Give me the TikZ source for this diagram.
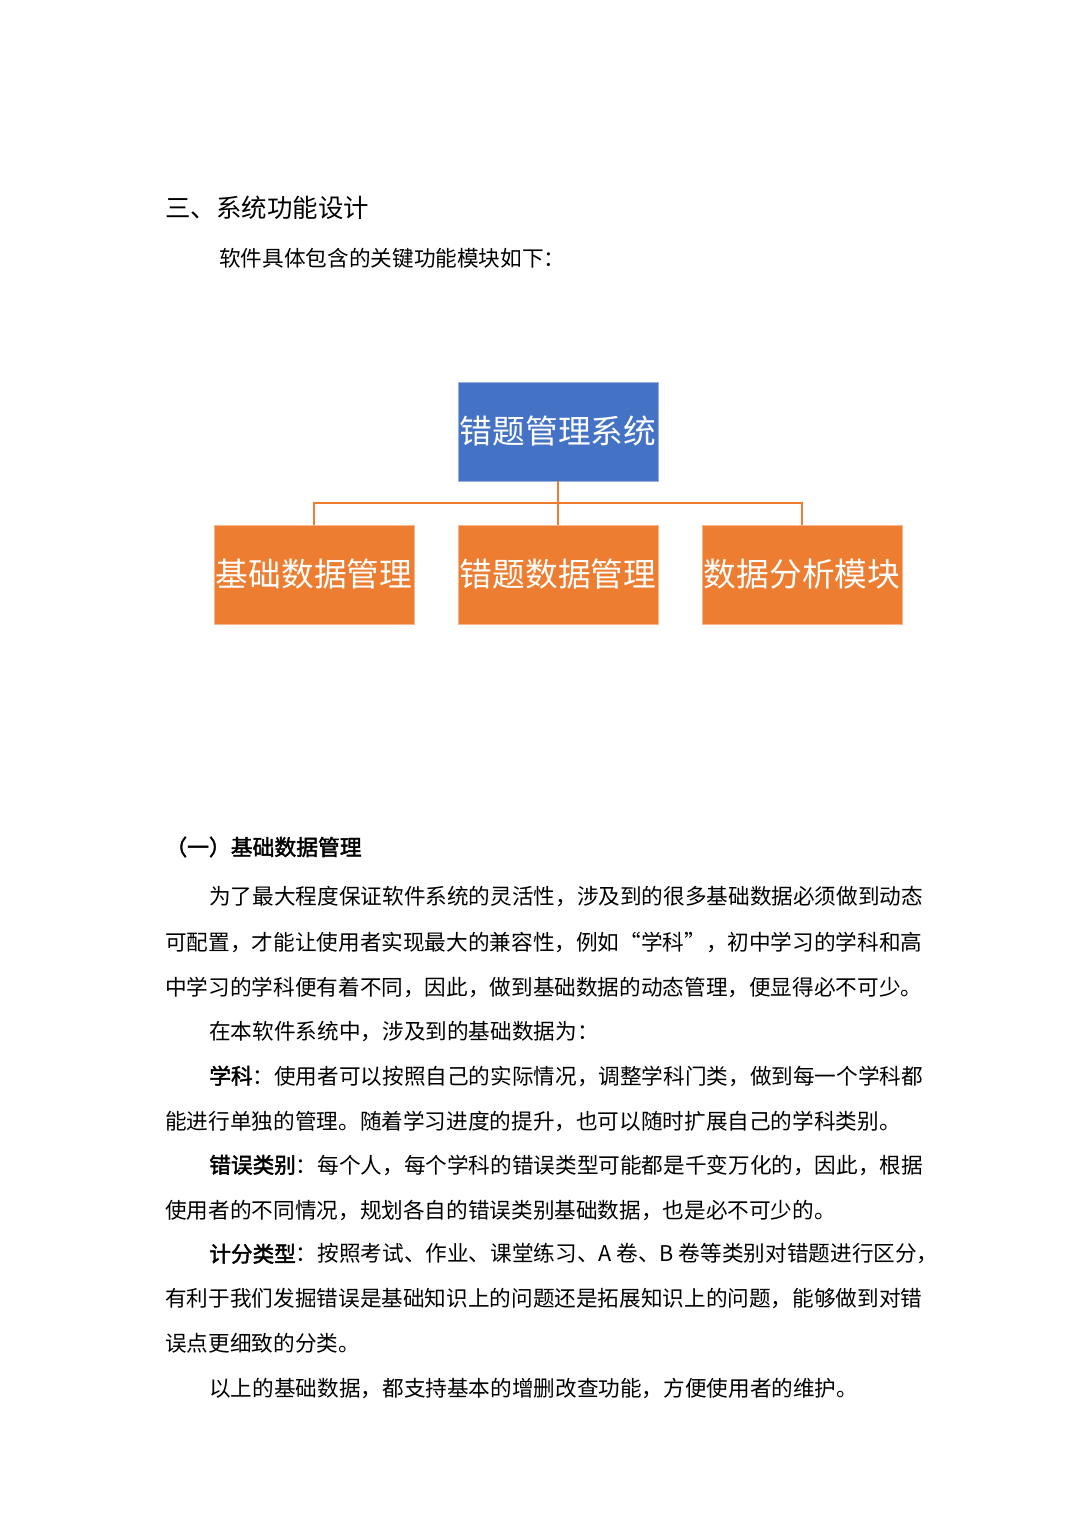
\documentclass[tikz,border=0pt]{standalone}
\usepackage{fontspec}
\usepackage{xcolor}
\usepackage{tikz}
\usetikzlibrary{calc}
\newfontfamily\cjk{Noto Sans CJK SC}
\newfontfamily\cjkbf[FakeBold=2]{Noto Sans CJK SC}
\newlength\pxu
\setlength\pxu{0.19337mm}
\definecolor{sysblue}{HTML}{4472C4}
\definecolor{modorange}{HTML}{ED7D31}
\tikzset{
	topbox/.style={rectangle, fill=sysblue, draw=sysblue!55!white, line width=0.4pt,
			minimum width=200\pxu, minimum height=99\pxu, inner sep=0pt,
			text=white, font=\cjk\fontsize{18pt}{20pt}\selectfont},
	modbox/.style={topbox, fill=modorange, draw=modorange!55!white},
	link/.style={draw=modorange, line width=1.1pt},
	txt/.style={anchor=west, inner sep=0pt, font=\cjk\fontsize{11.9pt}{14pt}\selectfont},
	head/.style={anchor=west, inner sep=0pt, font=\cjk\fontsize{14pt}{16pt}\selectfont}
}
\begin{document}
\begin{tikzpicture}[x=0.19337mm, y=-0.19337mm]
	\fill[white] (0,0) rectangle (1086,1536);
	\useasboundingbox (0,0) rectangle (1086,1536);

	% heading
	\node[head] (title) at (165,208) {三、系统功能设计};
	\node[txt] (intro) at (219,258) {软件具体包含的关键功能模块如下：};

	% module chart
	\node[topbox] (sys) at (558,431.5) {错题管理系统};
	\node[modbox] (base) at (314,574.5) {基础数据管理};
	\node[modbox] (wrong) at (558,574.5) {错题数据管理};
	\node[modbox] (stat) at (802,574.5) {数据分析模块};
	\coordinate (hub) at (558,503);
	\draw[link] (sys.south) -- (hub);
	\draw[link] (hub) -| (base.north);
	\draw[link] (hub) -- (wrong.north);
	\draw[link] (hub) -| (stat.north);

	% section text
	\node[txt, font=\cjkbf\fontsize{12pt}{14pt}\selectfont] (sub) at (165,847) {（一）基础数据管理};
	\node[txt] (p1a) at (209,897) {为了最大程度保证软件系统的灵活性，涉及到的很多基础数据必须做到动态};
	\node[txt] (p1b) at (165,942) {可配置，才能让使用者实现最大的兼容性，例如“学科”，初中学习的学科和高};
	\node[txt] (p1c) at (165,987) {中学习的学科便有着不同，因此，做到基础数据的动态管理，便显得必不可少。};
	\node[txt] (p2a) at (209,1032) {在本软件系统中，涉及到的基础数据为：};
	\node[txt] (p3a) at (209,1076) {{\cjkbf 学科}：使用者可以按照自己的实际情况，调整学科门类，做到每一个学科都};
	\node[txt] (p3b) at (165,1121) {能进行单独的管理。随着学习进度的提升，也可以随时扩展自己的学科类别。};
	\node[txt] (p4a) at (209,1165) {{\cjkbf 错误类别}：每个人，每个学科的错误类型可能都是千变万化的，因此，根据};
	\node[txt] (p4b) at (165,1210) {使用者的不同情况，规划各自的错误类别基础数据，也是必不可少的。};
	\node[txt] (p5a) at (209,1254) {{\cjkbf 计分类型}：按照考试、作业、课堂练习、A 卷、B 卷等类别对错题进行区分，};
	\node[txt] (p5b) at (165,1299) {有利于我们发掘错误是基础知识上的问题还是拓展知识上的问题，能够做到对错};
	\node[txt] (p5c) at (165,1343) {误点更细致的分类。};
	\node[txt] (p6a) at (209,1388) {以上的基础数据，都支持基本的增删改查功能，方便使用者的维护。};
\end{tikzpicture}
\end{document}
